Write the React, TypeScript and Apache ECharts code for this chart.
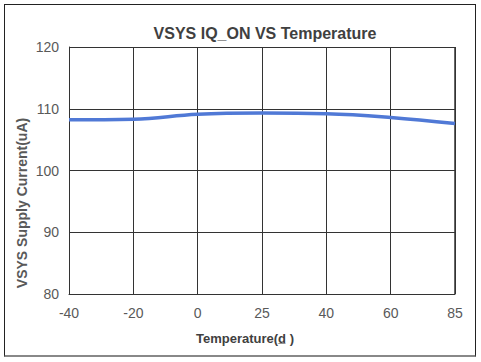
import React, { useEffect, useRef } from "react";
import * as echarts from "echarts";

const categories = ["-40", "-20", "0", "25", "40", "60", "85"];
const currentValues = [108.2, 108.3, 109.1, 109.3, 109.2, 108.6, 107.6];
const yTicks = { min: 80, max: 120, interval: 10 };
const titleText = "VSYS IQ_ON VS Temperature";
const xName = "Temperature(d\u0332 )";
const yName = "VSYS Supply Current(uA)";

export default function App() {
  const ref = useRef<HTMLDivElement>(null);
  useEffect(() => {
    document.body.style.margin = "0";
    const chart = echarts.init(ref.current!, null, { renderer: "svg" });
    chart.setOption({
      animation: false,
      backgroundColor: "#ffffff",
      title: {
        text: titleText,
        left: 260,
        textAlign: "center",
        top: 20,
        textStyle: {
          fontFamily: "Liberation Sans",
          fontSize: 16,
          fontWeight: "bold",
          color: "#404040",
        },
      },
      grid: { left: 69, right: 26, top: 47, bottom: 68 },
      xAxis: {
        type: "category",
        data: categories,
        boundaryGap: false,
        axisLine: { lineStyle: { color: "#333", width: 1 } },
        axisTick: { show: false },
        axisLabel: {
          fontFamily: "Liberation Sans",
          fontSize: 14,
          color: "#595959",
          margin: 12,
        },
        splitLine: { show: true, lineStyle: { color: "#333", width: 1 } },
      },
      yAxis: {
        type: "value",
        min: yTicks.min,
        max: yTicks.max,
        interval: yTicks.interval,
        axisLine: { show: true, lineStyle: { color: "#333", width: 1 } },
        axisTick: { show: false },
        axisLabel: {
          fontFamily: "Liberation Sans",
          fontSize: 14,
          color: "#595959",
          margin: 10,
        },
        splitLine: { show: true, lineStyle: { color: "#333", width: 1 } },
      },
      series: [
        {
          type: "line",
          data: currentValues,
          smooth: 0.4,
          symbol: "none",
          lineStyle: { color: "#5079d6", width: 3.5 },
        },
      ],
      graphic: [
        {
          type: "rect",
          shape: { x: 455, y: 47, width: 0, height: 247 },
          style: { stroke: "#333", lineWidth: 1, fill: "none" },
        },
        {
          type: "text",
          x: 245,
          y: 338,
          style: {
            text: xName,
            fontFamily: "Liberation Sans",
            fontSize: 13,
            fontWeight: "bold",
            fill: "#404040",
            align: "center",
            verticalAlign: "middle",
          },
        },
        {
          type: "text",
          x: 22,
          y: 203,
          rotation: Math.PI / 2,
          style: {
            text: yName,
            fontFamily: "Liberation Sans",
            fontSize: 14,
            fontWeight: "bold",
            fill: "#595959",
            align: "center",
            verticalAlign: "middle",
          },
        },
      ],
    });
    return () => chart.dispose();
  }, []);
  return (
    <div
      style={{
        position: "relative",
        width: 481,
        height: 362,
        background: "#fff",
      }}
    >
      <div
        ref={ref}
        style={{ position: "absolute", left: 0, top: 0, width: 481, height: 362 }}
      />
      <div
        style={{
          position: "absolute",
          left: 4,
          top: 4,
          width: 470,
          height: 350,
          border: "1.5px solid #222",
          borderBottom: "2px solid #888",
          pointerEvents: "none",
        }}
      />
    </div>
  );
}
